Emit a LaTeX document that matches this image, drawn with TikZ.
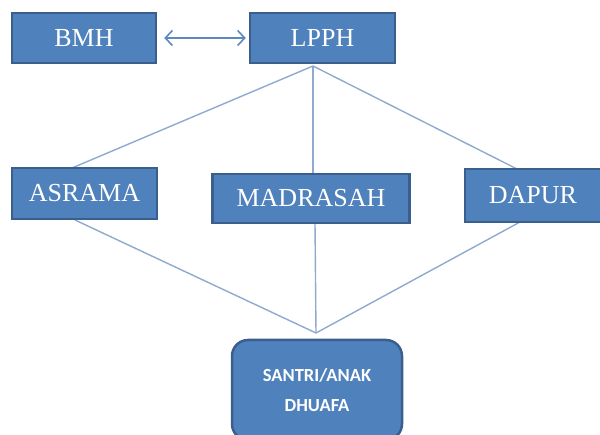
\documentclass[tikz,border=0pt]{standalone}
\usepackage{fontspec}
\setmainfont{Liberation Serif}
\newfontfamily\boxsans{Carlito}
\usetikzlibrary{arrows.meta}
\definecolor{boxfill}{HTML}{4F81BD}
\definecolor{boxedge}{HTML}{3A5F8C}
\definecolor{linkcol}{HTML}{8FA9CF}
\definecolor{arrcol}{HTML}{5E88C0}
\tikzset{
  unit/.style={draw=boxedge, fill=boxfill, line width=2.5pt, text=white,
    font=\fontsize{26}{28}\selectfont, inner sep=0pt},
  rounded unit/.style={unit, rounded corners=16pt, align=center,
    font=\boxsans\bfseries\fontsize{18.5}{30}\selectfont},
  link/.style={draw=linkcol, line width=1.4pt},
  duo/.style={draw=arrcol, line width=1.6pt,
    {Straight Barb[length=7pt,width=15pt,line width=1.6pt]}-{Straight Barb[length=7pt,width=15pt,line width=1.6pt]}}
}
\begin{document}
\begin{tikzpicture}[x=1pt,y=-1pt]
\useasboundingbox (0,0) rectangle (600,435);
% coordinates for connector ends
\coordinate (topapex) at (313,66);
\coordinate (botapex) at (316,333);
\coordinate (asramaTop) at (72,168);
\coordinate (asramaBot) at (75,220);
\coordinate (dapurTop) at (517,169);
\coordinate (dapurBot) at (520,222);
\coordinate (madTop) at (313,175);
\coordinate (madBot) at (315,223);
% links
\draw[link] (topapex) -- (asramaTop);
\draw[link] (topapex) -- (madTop);
\draw[link] (topapex) -- (dapurTop);
\draw[link] (asramaBot) -- (botapex);
\draw[link] (madBot) -- (botapex);
\draw[link] (dapurBot) -- (botapex);
% boxes
\node[unit, minimum width=144pt, minimum height=50pt] (bmh) at (84,38) {BMH};
\node[unit, minimum width=145pt, minimum height=50pt] (lpph) at (322.5,38) {LPPH};
\node[unit, minimum width=145pt, minimum height=51pt] (asrama) at (84.5,193.5) {ASRAMA};
\node[unit, minimum width=197pt, minimum height=49pt] (madrasah) at (311,198.5) {MADRASAH};
\node[unit, minimum width=136pt, minimum height=53pt] (dapur) at (533,195.5) {DAPUR};
\node[rounded unit, minimum width=170pt, minimum height=100pt] (santri) at (317,390) {SANTRI/ANAK\\DHUAFA};
% arrow
\path (bmh.east) ++(7pt,0) coordinate (bmhR) (lpph.west) ++(-3pt,0) coordinate (lpphL);
\draw[duo] (bmhR) -- (lpphL);
\end{tikzpicture}
\end{document}
